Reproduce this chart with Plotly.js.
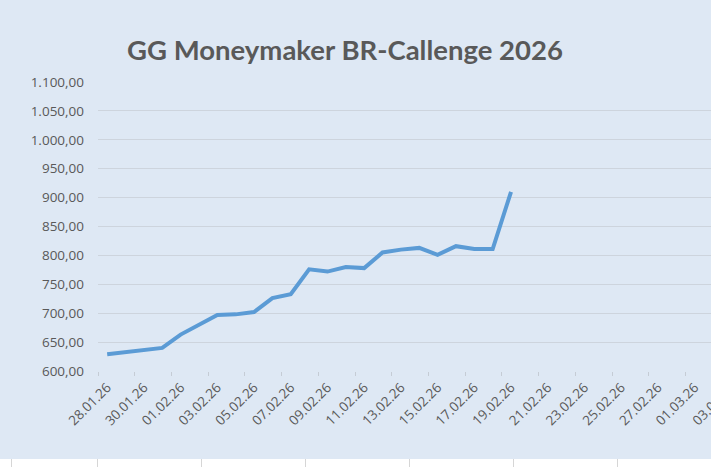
<!DOCTYPE html>
<html>
<head>
<meta charset="utf-8">
<script src="https://cdn.plot.ly/plotly-3.0.1.min.js"></script>
<style>
  html, body { margin:0; padding:0; width:711px; height:467px; overflow:hidden; background:#ffffff; }
  #chart { position:absolute; left:0; top:0; width:760px; height:459px; }
  #cells { position:absolute; left:0; top:459px; width:711px; height:8px;
    background: repeating-linear-gradient(to right, #d6d6d6 0px, #d6d6d6 1px, #ffffff 1px, #ffffff 104.1px);
    background-position: 97px 0; }
</style>
</head>
<body>
<div id="chart"></div>
<div id="cells"></div>
<script>
// Data
const chartTitle = 'GG Moneymaker BR-Callenge 2026';
const dates = ['2026-01-28','2026-01-31','2026-02-01','2026-02-02','2026-02-03','2026-02-04','2026-02-05',
               '2026-02-06','2026-02-07','2026-02-08','2026-02-09','2026-02-10','2026-02-11','2026-02-12',
               '2026-02-13','2026-02-14','2026-02-15','2026-02-16','2026-02-17','2026-02-18','2026-02-19'];
const values = [629, 640, 663, 680, 697, 698, 702,
                726, 733, 776, 772, 780, 778, 805,
                810, 813, 801, 816, 811, 811, 910];
const yRange = [600, 1100];
const xRange = ['2026-01-27 12:00', '2026-03-04 13:30'];

const bg = '#dee8f4';
const textColor = '#595959';

const trace = {
  x: dates,
  y: values,
  type: 'scatter',
  mode: 'lines',
  line: { color: '#5b9bd5', width: 4 },
  hoverinfo: 'skip'
};

const layout = {
  width: 760,
  height: 459,
  margin: { l: 98, r: 0, t: 82, b: 88 },
  paper_bgcolor: bg,
  plot_bgcolor: bg,
  separators: ',.',
  showlegend: false,
  title: {
    text: chartTitle,
    font: { family: 'Lato, "Open Sans", sans-serif', size: 27.5, color: textColor, weight: 'bold' },
    x: 345/760, xref: 'container', xanchor: 'center',
    y: 1 - 50/459, yref: 'container', yanchor: 'middle'
  },
  xaxis: {
    type: 'date',
    range: xRange,
    tick0: '2026-01-28',
    dtick: 2 * 86400000,
    tickformat: '%d.%m.%y',
    tickangle: -45,
    ticks: '',
    ticklabelstandoff: 5,
    showgrid: false,
    zeroline: false,
    showline: false,
    tickfont: { family: '"Open Sans", sans-serif', size: 13.5, color: textColor },
    minor: {
      tick0: '2026-01-27 12:00',
      dtick: 2 * 86400000,
      ticks: 'outside',
      ticklen: 4,
      tickcolor: '#c5ccd5',
      showgrid: false
    }
  },
  yaxis: {
    range: yRange,
    dtick: 50,
    tickformat: ',.2f',
    ticks: '',
    ticklabelstandoff: 13,
    showgrid: true,
    gridcolor: '#cdd4dd',
    gridwidth: 1,
    zeroline: false,
    showline: false,
    tickfont: { family: '"Open Sans", sans-serif', size: 13.5, color: textColor }
  }
};

Plotly.newPlot('chart', [trace], layout, { staticPlot: true, displayModeBar: false });
</script>
</body>
</html>
